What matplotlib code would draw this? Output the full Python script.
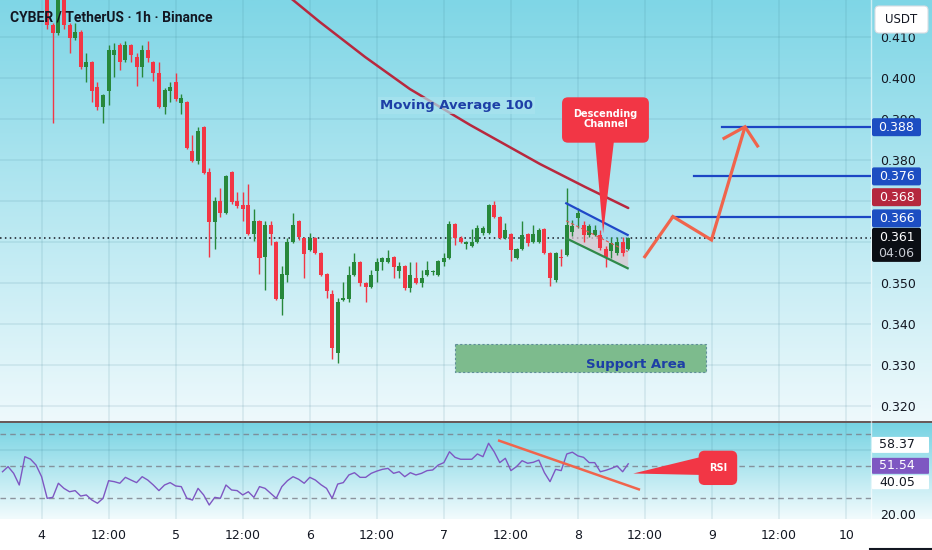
import numpy as np
import matplotlib
matplotlib.use("Agg")
import matplotlib.pyplot as plt
from matplotlib.patches import FancyBboxPatch, Polygon
from matplotlib.colors import to_rgb

# ---------------- data ----------------
hours = list(range(-7, 106))   # hours since day 4 00:00
opens = [0.4235, 0.4250, 0.4235, 0.4215, 0.4205, 0.4245, 0.4240, 0.4222,
         0.4210, 0.4129, 0.4110, 0.4200, 0.4129, 0.4098, 0.4112, 0.4027, 0.4039, 0.3978,
         0.3929, 0.3968, 0.4056, 0.4080, 0.4044, 0.4080, 0.4051, 0.4027, 0.4068, 0.4039,
         0.4012, 0.3929, 0.3968, 0.3990, 0.3939, 0.3941, 0.3822, 0.3798, 0.3880, 0.3771,
         0.3649, 0.3700, 0.3671, 0.3771, 0.3700, 0.3690, 0.3690, 0.3620, 0.3651, 0.3563,
         0.3641, 0.3600, 0.3461, 0.3520, 0.3600, 0.3651, 0.3610, 0.3581, 0.3610, 0.3573,
         0.3522, 0.3473, 0.3329, 0.3459, 0.3461, 0.3520, 0.3551, 0.3500, 0.3490, 0.3530,
         0.3551, 0.3551, 0.3563, 0.3529, 0.3541, 0.3488, 0.3512, 0.3500, 0.3520, 0.3527,
         0.3520, 0.3551, 0.3561, 0.3644, 0.3610, 0.3595, 0.3590, 0.3600, 0.3622, 0.3622,
         0.3690, 0.3661, 0.3610, 0.3620, 0.3561, 0.3583, 0.3620, 0.3600, 0.3600, 0.3632,
         0.3573, 0.3507, 0.3563, 0.3568, 0.3624, 0.3658, 0.3641, 0.3617, 0.3617, 0.3617,
         0.3583, 0.3578, 0.3573, 0.3600, 0.3583]
highs = [0.4260, 0.4270, 0.4245, 0.4225, 0.4255, 0.4262, 0.4250, 0.4230,
         0.4225, 0.4135, 0.4215, 0.4210, 0.4135, 0.4134, 0.4118, 0.4061, 0.4042, 0.3990,
         0.3960, 0.4080, 0.4085, 0.4085, 0.4090, 0.4083, 0.4061, 0.4080, 0.4090, 0.4042,
         0.4039, 0.3975, 0.3990, 0.4012, 0.3961, 0.3945, 0.3861, 0.3880, 0.3883, 0.3780,
         0.3710, 0.3732, 0.3763, 0.3773, 0.3722, 0.3722, 0.3741, 0.3680, 0.3654, 0.3651,
         0.3651, 0.3603, 0.3541, 0.3610, 0.3671, 0.3654, 0.3613, 0.3622, 0.3612, 0.3575,
         0.3524, 0.3483, 0.3463, 0.3502, 0.3541, 0.3573, 0.3553, 0.3502, 0.3532, 0.3561,
         0.3563, 0.3580, 0.3565, 0.3551, 0.3543, 0.3551, 0.3551, 0.3532, 0.3554, 0.3531,
         0.3556, 0.3573, 0.3651, 0.3646, 0.3614, 0.3602, 0.3632, 0.3641, 0.3640, 0.3692,
         0.3700, 0.3663, 0.3646, 0.3622, 0.3585, 0.3651, 0.3622, 0.3641, 0.3634, 0.3634,
         0.3575, 0.3575, 0.3583, 0.3732, 0.3654, 0.3683, 0.3650, 0.3645, 0.3641, 0.3630,
         0.3590, 0.3612, 0.3612, 0.3612, 0.3612]
lows = [0.4210, 0.4225, 0.4205, 0.4198, 0.4200, 0.4228, 0.4215, 0.4200,
        0.4120, 0.3890, 0.4105, 0.4120, 0.4061, 0.4093, 0.4022, 0.3990, 0.3941, 0.3922,
        0.3890, 0.3934, 0.4002, 0.4020, 0.4039, 0.4039, 0.3980, 0.4002, 0.4039, 0.3993,
        0.3926, 0.3912, 0.3941, 0.3945, 0.3912, 0.3826, 0.3795, 0.3790, 0.3765, 0.3563,
        0.3583, 0.3661, 0.3668, 0.3693, 0.3683, 0.3651, 0.3617, 0.3602, 0.3522, 0.3483,
        0.3593, 0.3459, 0.3422, 0.3502, 0.3598, 0.3605, 0.3512, 0.3578, 0.3571, 0.3518,
        0.3463, 0.3315, 0.3305, 0.3456, 0.3454, 0.3518, 0.3493, 0.3454, 0.3488, 0.3502,
        0.3532, 0.3549, 0.3512, 0.3512, 0.3483, 0.3478, 0.3498, 0.3490, 0.3517, 0.3519,
        0.3518, 0.3541, 0.3558, 0.3593, 0.3598, 0.3583, 0.3588, 0.3598, 0.3618, 0.3620,
        0.3658, 0.3608, 0.3607, 0.3554, 0.3558, 0.3580, 0.3590, 0.3598, 0.3598, 0.3571,
        0.3493, 0.3502, 0.3541, 0.3565, 0.3615, 0.3635, 0.3600, 0.3612, 0.3615, 0.3580,
        0.3540, 0.3560, 0.3568, 0.3566, 0.3580]
closes = [0.4250, 0.4235, 0.4215, 0.4205, 0.4245, 0.4240, 0.4222, 0.4210,
          0.4129, 0.4110, 0.4200, 0.4129, 0.4098, 0.4112, 0.4027, 0.4039, 0.3968, 0.3929,
          0.3959, 0.4068, 0.4068, 0.4039, 0.4080, 0.4056, 0.4027, 0.4068, 0.4049, 0.4012,
          0.3929, 0.3971, 0.3978, 0.3949, 0.3951, 0.3829, 0.3798, 0.3871, 0.3768, 0.3649,
          0.3700, 0.3671, 0.3761, 0.3698, 0.3688, 0.3680, 0.3620, 0.3651, 0.3561, 0.3641,
          0.3620, 0.3461, 0.3522, 0.3600, 0.3641, 0.3612, 0.3571, 0.3610, 0.3573, 0.3520,
          0.3480, 0.3341, 0.3454, 0.3463, 0.3520, 0.3551, 0.3500, 0.3490, 0.3520, 0.3551,
          0.3561, 0.3561, 0.3539, 0.3541, 0.3488, 0.3520, 0.3500, 0.3512, 0.3532, 0.3530,
          0.3554, 0.3561, 0.3644, 0.3610, 0.3600, 0.3600, 0.3600, 0.3634, 0.3634, 0.3690,
          0.3661, 0.3610, 0.3629, 0.3580, 0.3583, 0.3617, 0.3598, 0.3620, 0.3629, 0.3573,
          0.3512, 0.3573, 0.3560, 0.3641, 0.3639, 0.3670, 0.3617, 0.3639, 0.3629, 0.3585,
          0.3563, 0.3598, 0.3600, 0.3573, 0.3610]
rsi = [46.6, 49.8, 45.6, 38.3, 56.0, 54.5, 50.8, 43.5,
       30.0, 30.6, 39.4, 36.2, 34.1, 34.8, 31.4, 32.1, 28.9, 26.9,
       30.0, 41.0, 40.4, 39.4, 43.1, 41.4, 39.8, 43.5, 41.4, 38.3,
       34.8, 38.3, 39.8, 37.7, 37.3, 30.0, 28.9, 36.2, 32.1, 25.8,
       30.6, 30.0, 38.3, 35.2, 34.8, 32.1, 34.1, 30.6, 37.3, 36.2,
       33.1, 30.0, 37.3, 41.0, 43.5, 41.9, 39.4, 43.1, 41.4, 38.5,
       36.2, 30.0, 38.9, 39.8, 44.6, 46.0, 43.1, 43.1, 45.6, 47.0,
       48.1, 48.7, 45.6, 46.6, 43.5, 46.0, 44.6, 45.6, 47.3, 47.7,
       50.8, 52.3, 59.1, 55.6, 54.4, 54.4, 54.4, 57.7, 56.0, 64.4,
       59.1, 52.3, 55.0, 47.3, 49.8, 53.5, 51.9, 52.5, 53.9, 46.0,
       40.4, 48.1, 47.3, 57.7, 58.8, 56.5, 55.6, 52.3, 52.3, 46.6,
       47.5, 48.7, 50.2, 46.6, 51.54]

ma_hours = [42.7, 45.0, 49.8, 57.9, 65.9, 76.7, 89.2, 97.3, 105.0]
ma_vals = [0.42146, 0.41902, 0.41366, 0.40512, 0.39732, 0.38854, 0.37902, 0.37341, 0.36829]

channel_hours = [93.9, 104.9]
channel_top = [0.36944, 0.36171]
channel_bot = [0.36090, 0.35359]

target_levels = [0.366, 0.376, 0.388]
target_start = [112.9, 116.8, 121.7]

path_hours = [107.8, 113.0, 119.9, 125.9]
path_prices = [0.3561, 0.3662, 0.3605, 0.3881]
head_hours = [121.9, 125.9, 128.3]
head_prices = [0.3851, 0.3881, 0.3831]

support_hours = [74.0, 119.0]
support_prices = [0.3284, 0.3350]

rsi_trend_hours = [81.9, 106.9]
rsi_trend_vals = [66.0, 35.6]

last_price = 0.361
ma_last = 0.368
rsi_last = 51.54
rsi_upper = 58.37
rsi_lower = 40.05

price_ticks = [0.32, 0.33, 0.34, 0.35, 0.36, 0.37, 0.38, 0.39, 0.40, 0.41]
hidden_ticks = [0.36, 0.37]   # covered by the price boxes
time_ticks = [0, 12, 24, 36, 48, 60, 72, 84, 96, 108, 120, 132, 144]
time_labels = ["4", "12:00", "5", "12:00", "6", "12:00", "7", "12:00", "8", "12:00", "9", "12:00", "10"]

# ---------------- figure ----------------
W, H = 932, 550
fig = plt.figure(figsize=(W / 100, H / 100), dpi=100)
fig.patch.set_facecolor("white")

UP = "#27883b"
DOWN = "#f23645"
TXT = "#131722"


def gradient(top, bottom, n=256):
    t = np.linspace(0, 1, n)[:, None]
    a, b = np.array(to_rgb(top)), np.array(to_rgb(bottom))
    return (a + (b - a) * t)[:, None, :]


bg = fig.add_axes([0, 0, 1, 1], zorder=0)
bg.axis("off")
bg.imshow(gradient("#7fd6e6", "#eef9fc"), extent=[0, W, 421, 0], aspect="auto")
bg.imshow(gradient("#76d3e3", "#f2fbfd"), extent=[0, W, 519, 423], aspect="auto")
bg.set_xlim(0, W)
bg.set_ylim(H, 0)
bg.plot([0, W], [422, 422], color="#4b3a3a", lw=1.2)
bg.plot([871, 871], [0, 519], color="white", lw=1, alpha=0.6)

# main price panel
ax = fig.add_axes([0, 1 - 421 / H, 871 / W, 421 / H], zorder=2)
ax.set_facecolor("none")
ax.set_xlim(-7.446, 148.45)
ax.set_ylim(0.31634, 0.41902)
for s in ax.spines.values():
    s.set_visible(False)
ax.yaxis.tick_right()
ax.set_yticks(price_ticks)
ax.set_yticklabels(["" if v in hidden_ticks else "%.3f" % v for v in price_ticks])
ax.tick_params(axis="y", length=0, pad=6.5, labelsize=9, labelcolor=TXT)
ax.set_xticks([])
for t in time_ticks:
    ax.axvline(t, color="#3d7f93", alpha=0.13, lw=1.2, zorder=0)
for p in price_ticks:
    ax.axhline(p, color="#3d7f93", alpha=0.13, lw=1.2, zorder=0)

# candles
cols = [UP if c >= o else DOWN for o, c in zip(opens, closes)]
ax.vlines(hours, lows, highs, colors=cols, lw=1, zorder=3)
bottoms = [min(o, c) for o, c in zip(opens, closes)]
heights = [max(abs(c - o), 0.0003) for o, c in zip(opens, closes)]
ax.bar(hours, heights, bottom=bottoms, width=0.72, color=cols, lw=0, zorder=4)

# moving average
ax.plot(ma_hours, ma_vals, color="#b8283e", lw=1.8, zorder=5, solid_capstyle="round")
ax.text(74.2, 0.3934, "Moving Average 100", color="#1d3fa6", fontsize=9.5,
        fontweight="bold", ha="center", va="center", zorder=6,
        bbox=dict(boxstyle="square,pad=0.15", fc="#a9e3ee", ec="none", alpha=0.7))

# current price dotted line
ax.axhline(last_price, color=TXT, lw=1.1, ls=(0, (1, 2.2)), zorder=2)

# descending channel
mid = [(a + b) / 2 for a, b in zip(channel_top, channel_bot)]
ax.fill_between(channel_hours, mid, channel_top, color="#8fd0ee", alpha=0.55, lw=0, zorder=2)
ax.fill_between(channel_hours, channel_bot, mid, color="#dcc8d0", alpha=0.75, lw=0, zorder=2)
ax.plot(channel_hours, channel_top, color="#1f48c8", lw=1.6, zorder=5)
ax.plot(channel_hours, channel_bot, color="#2f8a4a", lw=1.6, zorder=5)
ax.plot(channel_hours, mid, color="#e0564f", lw=0.8, ls=(0, (3, 2)), zorder=5)

# target levels
for lvl, st in zip(target_levels, target_start):
    ax.plot([st, 148.45], [lvl, lvl], color="#1c46c4", lw=1.6, zorder=5)

# projected path
ax.plot(path_hours, path_prices, color="#f0644c", lw=2.3, zorder=6,
        solid_joinstyle="miter", solid_capstyle="butt")
ax.plot(head_hours, head_prices, color="#f0644c", lw=2.3, zorder=6,
        solid_joinstyle="miter", solid_capstyle="butt")

# support area
ax.fill_between(support_hours, support_prices[0], support_prices[1], color="#7dbb8d",
                ec="#5f8f99", ls=(0, (2, 2)), lw=0.8, zorder=2)
ax.text(106.4, 0.3300, "Support Area", color="#1d3fa6", fontsize=9.5,
        fontweight="bold", ha="center", va="center", zorder=6)

# title
ax.text(10 / 871, 1 - 18 / 421, "CYBER / TetherUS \u00b7 1h \u00b7 Binance", transform=ax.transAxes,
        fontsize=10, family="Roboto", color=TXT, fontweight="bold", ha="left", va="center", zorder=7)

# RSI panel
rx = fig.add_axes([0, 1 - 519 / H, 871 / W, 96 / H], zorder=2)
rx.set_facecolor("none")
rx.set_xlim(-7.446, 148.45)
rx.set_ylim(17.06, 77.06)
for s in rx.spines.values():
    s.set_visible(False)
rx.set_xticks(time_ticks)
rx.set_xticklabels(time_labels)
rx.tick_params(axis="x", length=0, pad=7, labelsize=9, labelcolor=TXT)
rx.yaxis.tick_right()
rx.set_yticks([20])
rx.set_yticklabels(["20.00"])
rx.tick_params(axis="y", length=0, pad=6.5, labelsize=9, labelcolor=TXT)
for t in time_ticks:
    rx.axvline(t, color="#3d7f93", alpha=0.13, lw=1.2, zorder=0)
rx.axhline(60, color="#3d7f93", alpha=0.15, lw=1.2, zorder=0)
for lv in (70, 50, 30):
    rx.axhline(lv, color="#7a7d88", lw=1, ls=(0, (4, 3)), alpha=0.8, zorder=1)
rx.plot(hours, rsi, color="#7e57c2", lw=1, zorder=3)
rx.plot(rsi_trend_hours, rsi_trend_vals, color="#f0644c", lw=1.8, zorder=4)

# overlay for axis labels and callouts (pixel space)
ov = fig.add_axes([0, 0, 1, 1], zorder=5)
ov.set_xlim(0, W)
ov.set_ylim(H, 0)
ov.axis("off")
fig.canvas.draw()


def px(axis, x, y):
    d = axis.transData.transform((x, y))
    return d[0], H - d[1]


def axis_box(yc, text, fc, tc, h=18):
    ov.add_patch(FancyBboxPatch((872, yc - h / 2), 49, h, boxstyle="round,pad=0,rounding_size=2",
                                fc=fc, ec="none", zorder=5))
    ov.text(896.5, yc, text, color=tc, ha="center", va="center", fontsize=9, zorder=6)


axis_box(px(ax, 0, target_levels[2])[1], "%.3f" % target_levels[2], "#1d4ec2", "white")
axis_box(px(ax, 0, target_levels[1])[1], "%.3f" % target_levels[1], "#1d4ec2", "white")
axis_box(px(ax, 0, ma_last)[1] - 12, "%.3f" % ma_last, "#b5283e", "white")
axis_box(px(ax, 0, target_levels[0])[1] + 1, "%.3f" % target_levels[0], "#1d4ec2", "white")
yl = px(ax, 0, last_price)[1]
ov.add_patch(FancyBboxPatch((872, yl - 10), 49, 34, boxstyle="round,pad=0,rounding_size=2",
                            fc="#0b0e14", ec="none", zorder=5))
ov.text(896.5, yl, "%.3f" % last_price, color="white", ha="center", va="center", fontsize=9, zorder=6)
ov.text(896.5, yl + 16, "04:06", color="#c9ccd4", ha="center", va="center", fontsize=9, zorder=6)

# USDT box
ov.add_patch(FancyBboxPatch((875, 6), 53, 27, boxstyle="round,pad=0,rounding_size=4",
                            fc="white", ec="#d8dde3", lw=0.8, zorder=5))
ov.text(901.5, 19.5, "USDT", color=TXT, ha="center", va="center", fontsize=8.5, zorder=6)

# RSI value boxes
ru = px(rx, 0, rsi_upper)[1] - 8
ov.add_patch(FancyBboxPatch((872, ru - 8), 57, 16, boxstyle="round,pad=0,rounding_size=1",
                            fc="white", ec="none", zorder=5))
ov.text(897, ru, "%.2f" % rsi_upper, color=TXT, ha="center", va="center", fontsize=9, zorder=6)
rl = px(rx, 0, rsi_last)[1] + 2
ov.add_patch(FancyBboxPatch((872, rl - 8), 57, 16, boxstyle="round,pad=0,rounding_size=1",
                            fc="#7e57c2", ec="none", zorder=5))
ov.text(897, rl, "%.2f" % rsi_last, color="white", ha="center", va="center", fontsize=9, zorder=6)
rw = px(rx, 0, rsi_lower)[1]
ov.add_patch(FancyBboxPatch((872, rw - 7), 57, 14, boxstyle="round,pad=0,rounding_size=1",
                            fc="white", ec="none", zorder=5))
ov.text(897, rw, "%.2f" % rsi_lower, color=TXT, ha="center", va="center", fontsize=9, zorder=6)
ov.plot([870, W], [549, 549], color="#131722", lw=1.5)

# "Descending Channel" callout
bx0, by0 = px(ax, 93.15, 0.39529)
bx1, by1 = px(ax, 108.7, 0.38422)
tx, ty = px(ax, 100.5, 0.36212)
b0x, _ = px(ax, 99.05, 0.38422)
b1x, _ = px(ax, 102.45, 0.38422)
ov.add_patch(Polygon([(b0x, by1 - 2), (b1x, by1 - 2), (tx, ty)], closed=True, fc=DOWN, ec="none", zorder=4))
ov.add_patch(FancyBboxPatch((bx0, by0), bx1 - bx0, by1 - by0, boxstyle="round,pad=0,rounding_size=6",
                            fc=DOWN, ec="none", zorder=4))
ov.text((bx0 + bx1) / 2, (by0 + by1) / 2 - 1, "Descending\nChannel", color="white", fontsize=7,
        fontweight="bold", ha="center", va="center", linespacing=1.0, zorder=6)

# "RSI" callout
cx0, cy0 = px(rx, 117.6, 59.75)
cx1, cy1 = px(rx, 124.5, 38.3)
rtx, rty = px(rx, 105.9, 45.5)
_, t0y = px(rx, 0, 55.8)
_, t1y = px(rx, 0, 44.6)
ov.add_patch(Polygon([(cx0 + 2, t0y), (cx0 + 2, t1y), (rtx, rty)], closed=True, fc=DOWN, ec="none", zorder=4))
ov.add_patch(FancyBboxPatch((cx0, cy0), cx1 - cx0, cy1 - cy0, boxstyle="round,pad=0,rounding_size=6",
                            fc=DOWN, ec="none", zorder=4))
ov.text((cx0 + cx1) / 2, (cy0 + cy1) / 2, "RSI", color="white", fontsize=7,
        fontweight="bold", ha="center", va="center", zorder=6)

fig.savefig("out.png", dpi=100)
